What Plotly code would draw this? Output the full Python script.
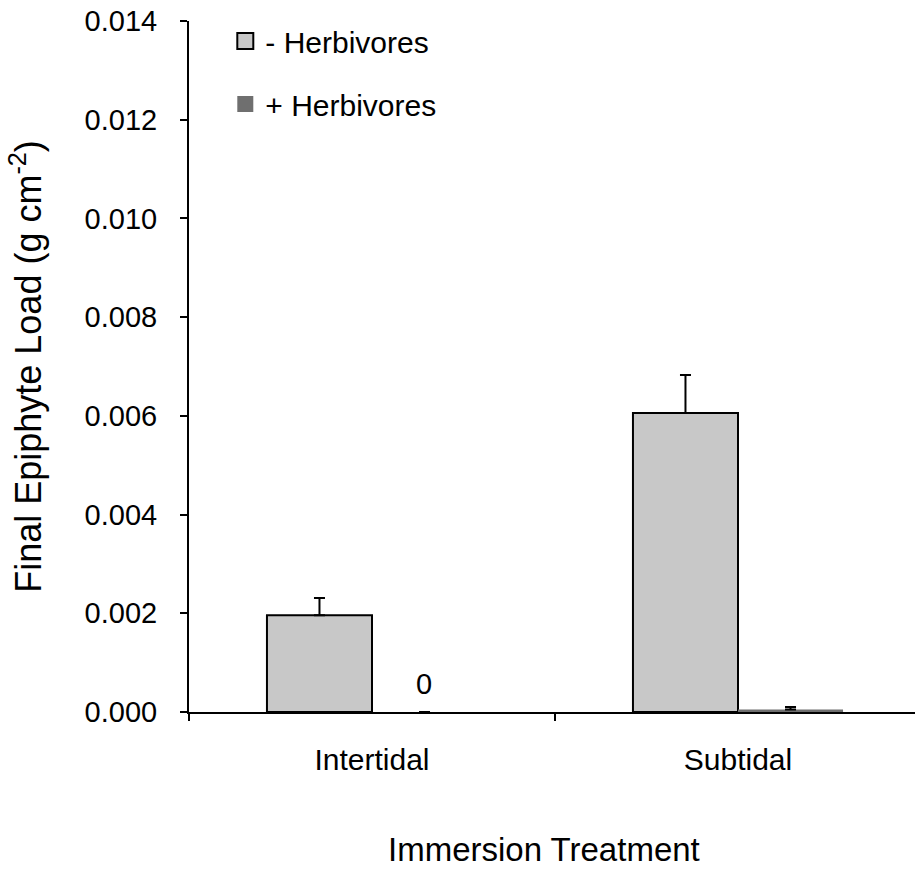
import plotly.graph_objects as go

# Immersion treatments on the x axis
categories = ["Intertidal", "Subtidal"]

# Mean final epiphyte load (g cm^-2) and standard errors
minus_herb = [0.00196, 0.00606]
minus_herb_se = [0.00035, 0.00077]
plus_herb = [0.0, 0.00005]
plus_herb_se = [0.0, 0.00005]

series_names = ["- Herbivores", "+ Herbivores"]
tick_vals = [0.000, 0.002, 0.004, 0.006, 0.008, 0.010, 0.012, 0.014]

FONT = "Arial, Liberation Sans, sans-serif"
LIGHT = "#c8c8c8"
DARK = "#6f6f6f"

fig = go.Figure()

fig.add_trace(go.Bar(
    x=categories, y=minus_herb, name=series_names[0], showlegend=False,
    marker=dict(color=LIGHT, line=dict(color="black", width=2)),
    error_y=dict(type="data", array=minus_herb_se, symmetric=False,
                 arrayminus=[0, 0], color="black", thickness=2, width=5.5),
))
fig.add_trace(go.Bar(
    x=categories, y=plus_herb, name=series_names[1], showlegend=False,
    marker=dict(color=DARK, line=dict(color=DARK, width=0)),
    error_y=dict(type="data", array=plus_herb_se, symmetric=False,
                 arrayminus=[0, 0], color="black", thickness=2, width=5.5),
))

# Legend entries with larger square swatches
fig.add_trace(go.Scatter(
    x=[None], y=[None], mode="markers", name=series_names[0], legendgroup="a",
    marker=dict(symbol="square", size=16, color=LIGHT, line=dict(color="black", width=2)),
))
fig.add_trace(go.Scatter(
    x=[None], y=[None], mode="markers", name=series_names[1], legendgroup="b",
    marker=dict(symbol="square", size=17, color=DARK, line=dict(width=0)),
))

# Value label for the zero-height bar
for cat, v in zip(categories, plus_herb):
    if v == 0:
        fig.add_annotation(x=cat, y=v, text=f"{v:g}", showarrow=False,
                           xshift=52, yshift=10, yanchor="bottom",
                           font=dict(family=FONT, size=29, color="black"))

# x-axis title placed below the category labels
fig.add_annotation(text="Immersion Treatment", xref="paper", yref="paper",
                   x=0.489, y=-0.2265, xanchor="center", yanchor="bottom",
                   borderpad=0, showarrow=False,
                   font=dict(family=FONT, size=33, color="black"))

fig.update_layout(
    width=915, height=869,
    margin=dict(l=189, r=0, t=21, b=157),
    paper_bgcolor="white", plot_bgcolor="white",
    barmode="group", bargap=0.426, bargroupgap=0,
    font=dict(family=FONT, color="black"),
    legend=dict(x=0.05, y=1.0087, xanchor="left", yanchor="top",
                font=dict(family=FONT, size=30), itemwidth=30,
                tracegroupgap=21, bgcolor="rgba(0,0,0,0)"),
    xaxis=dict(
        type="category", range=[-0.5, 1.4836], automargin=False,
        showline=True, linecolor="black", linewidth=2,
        ticks="outside", tickson="boundaries", ticklen=7, tickwidth=2, tickcolor="black",
        tickfont=dict(family=FONT, size=30), ticklabelstandoff=20,
        showgrid=False, zeroline=False,
    ),
    yaxis=dict(
        range=[0, 0.014], tickvals=tick_vals, tickformat=".3f", automargin=False,
        showline=True, linecolor="black", linewidth=2,
        ticks="outside", ticklen=7, tickwidth=2, tickcolor="black",
        tickfont=dict(family=FONT, size=29), ticklabelstandoff=17,
        showgrid=False, zeroline=False,
        title=dict(text="Final Epiphyte Load (g cm<sup>-2</sup>)",
                   font=dict(family=FONT, size=36), standoff=32),
    ),
)

fig.write_html("out.html")
